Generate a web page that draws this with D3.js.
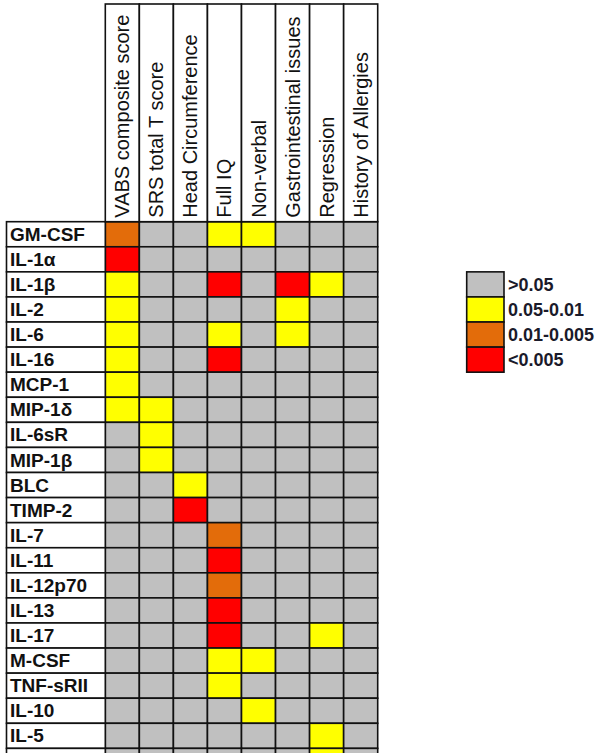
<!DOCTYPE html>
<html>
<head>
  <meta charset="utf-8">
  <title>Cytokine associations</title>
  <script src="https://d3js.org/d3.v7.min.js"></script>
  <style>
    body { margin: 0; background: #fff; }
  </style>
</head>
<body>
  <script>
// Data
var columns = ['VABS composite score', 'SRS total T score', 'Head Circumference', 'Full IQ',
               'Non-verbal', 'Gastrointestinal issues', 'Regression', 'History of Allergies'];

var rows = ['GM-CSF', 'IL-1α', 'IL-1β', 'IL-2', 'IL-6', 'IL-16', 'MCP-1', 'MIP-1δ', 'IL-6sR',
            'MIP-1β', 'BLC', 'TIMP-2', 'IL-7', 'IL-11', 'IL-12p70', 'IL-13', 'IL-17', 'M-CSF',
            'TNF-sRII', 'IL-10', 'IL-5', ''];

// 0 = >0.05, 1 = 0.05-0.01, 2 = 0.01-0.005, 3 = <0.005
var levels = [
  [2, 0, 0, 1, 1, 0, 0, 0],
  [3, 0, 0, 0, 0, 0, 0, 0],
  [1, 0, 0, 3, 0, 3, 1, 0],
  [1, 0, 0, 0, 0, 1, 0, 0],
  [1, 0, 0, 1, 0, 1, 0, 0],
  [1, 0, 0, 3, 0, 0, 0, 0],
  [1, 0, 0, 0, 0, 0, 0, 0],
  [1, 1, 0, 0, 0, 0, 0, 0],
  [0, 1, 0, 0, 0, 0, 0, 0],
  [0, 1, 0, 0, 0, 0, 0, 0],
  [0, 0, 1, 0, 0, 0, 0, 0],
  [0, 0, 3, 0, 0, 0, 0, 0],
  [0, 0, 0, 2, 0, 0, 0, 0],
  [0, 0, 0, 3, 0, 0, 0, 0],
  [0, 0, 0, 2, 0, 0, 0, 0],
  [0, 0, 0, 3, 0, 0, 0, 0],
  [0, 0, 0, 3, 0, 0, 1, 0],
  [0, 0, 0, 1, 1, 0, 0, 0],
  [0, 0, 0, 1, 0, 0, 0, 0],
  [0, 0, 0, 0, 1, 0, 0, 0],
  [0, 0, 0, 0, 0, 0, 1, 0],
  [0, 0, 0, 0, 0, 0, 1, 0]
];

var legendLabels = ['>0.05', '0.05-0.01', '0.01-0.005', '<0.005'];

var width = 600,
    height = 753;

var svg = d3.select('body')
  .append('svg')
  .attr('width', width)
  .attr('height', height)
  .style('display', 'block')
  .style('font-family', '"Liberation Sans", Arial, sans-serif');

var color = d3.scaleOrdinal()
  .domain([0, 1, 2, 3])
  .range(['#c0c0c0', '#ffff00', '#e36c0a', '#ff0000']);

var rowH = 25.08,
    gridTop = 221.7;

var x = d3.scaleBand()
  .domain(columns)
  .range([105.3, 377.7]);

var y = d3.scaleBand()
  .domain(d3.range(rows.length))
  .range([gridTop, gridTop + rowH * rows.length]);

// cells
var cells = [];
levels.forEach(function(r, i) {
  r.forEach(function(v, j) { cells.push({ row: i, col: columns[j], v: v }); });
});

svg.append('g')
  .selectAll('rect')
  .data(cells)
  .enter()
  .append('rect')
  .attr('x', function(d) { return x(d.col); })
  .attr('y', function(d) { return y(d.row); })
  .attr('width', x.bandwidth())
  .attr('height', y.bandwidth())
  .attr('fill', function(d) { return color(d.v); })
  .attr('stroke', '#111')
  .attr('stroke-width', 1.6);

// row label boxes
var labels = svg.append('g');
labels.selectAll('rect')
  .data(rows)
  .enter()
  .append('rect')
  .attr('x', 6.5)
  .attr('y', function(d, i) { return y(i); })
  .attr('width', x.range()[0] - 6.5)
  .attr('height', y.bandwidth())
  .attr('fill', '#fff')
  .attr('stroke', '#111')
  .attr('stroke-width', 1.6);

labels.selectAll('text')
  .data(rows)
  .enter()
  .append('text')
  .attr('x', 10)
  .attr('y', function(d, i) { return y(i) + y.bandwidth() / 2 + 6.6; })
  .attr('font-size', 19)
  .attr('font-weight', 'bold')
  .attr('fill', '#111')
  .text(function(d) { return d; });

// column header boxes
var headers = svg.append('g');
headers.selectAll('rect')
  .data(columns)
  .enter()
  .append('rect')
  .attr('x', function(d) { return x(d); })
  .attr('y', 4)
  .attr('width', x.bandwidth())
  .attr('height', gridTop - 4)
  .attr('fill', '#fff')
  .attr('stroke', '#111')
  .attr('stroke-width', 1.6);

headers.selectAll('text')
  .data(columns)
  .enter()
  .append('text')
  .attr('transform', function(d) {
    return 'translate(' + (x(d) + x.bandwidth() / 2 + 7) + ',' + (gridTop - 4) + ') rotate(-90)';
  })
  .attr('font-size', 20)
  .attr('fill', '#111')
  .text(function(d) { return d; });

// legend
var legend = svg.append('g');
var ly = d3.scaleBand()
  .domain(d3.range(legendLabels.length))
  .range([y(2), y(2) + rowH * legendLabels.length]);

legend.selectAll('rect')
  .data(legendLabels)
  .enter()
  .append('rect')
  .attr('x', 466.7)
  .attr('y', function(d, i) { return ly(i); })
  .attr('width', 37.3)
  .attr('height', ly.bandwidth())
  .attr('fill', function(d, i) { return color(i); })
  .attr('stroke', '#111')
  .attr('stroke-width', 1.6);

legend.selectAll('text')
  .data(legendLabels)
  .enter()
  .append('text')
  .attr('x', 508)
  .attr('y', function(d, i) { return ly(i) + ly.bandwidth() / 2 + 6.4; })
  .attr('font-size', 18)
  .attr('font-weight', 'bold')
  .attr('fill', '#1a1a2a')
  .text(function(d) { return d; });
  </script>
</body>
</html>
